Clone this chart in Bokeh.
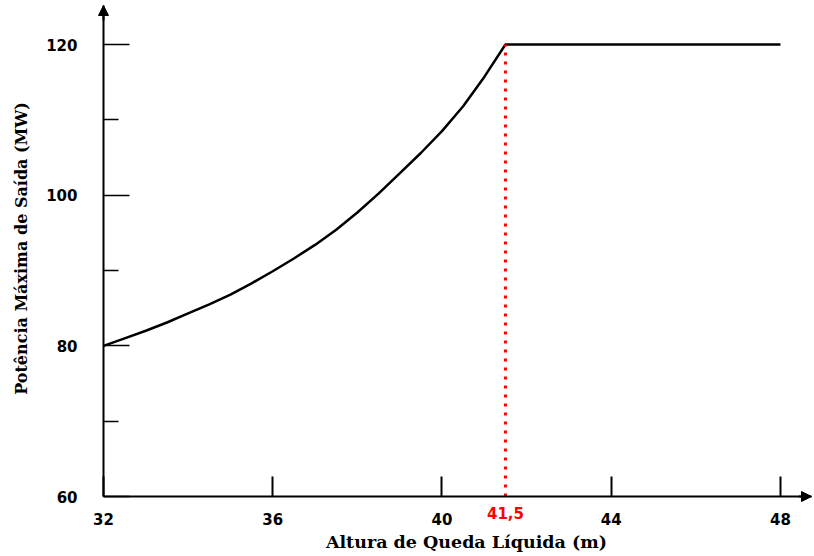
import math
from bokeh.plotting import figure
from bokeh.models import FixedTicker, Range1d, Label, Arrow, NormalHead
from bokeh.embed import file_html
from bokeh.resources import INLINE

# data
altura = [32, 32.5, 33, 33.5, 34, 34.5, 35, 35.5, 36, 36.5, 37, 37.5, 38, 38.5,
          39, 39.5, 40, 40.5, 41, 41.5, 48]
potencia = [80, 81.0, 82.0, 83.1, 84.3, 85.5, 86.8, 88.3, 89.9, 91.6, 93.4, 95.4,
            97.7, 100.2, 102.9, 105.6, 108.5, 111.8, 115.7, 120, 120]
limite_x = 41.5
limite_label = "41,5"
x_ticks = [32, 36, 40, 44, 48]
y_ticks = [60, 80, 100, 120]
y_minor = [70, 90, 110]
x_title = "Altura de Queda Líquida (m)"
y_title = "Potência Máxima de Saída (MW)"

# layout (pixels)
W, H = 812, 554
ox, oy = 103, 496          # pixel position of the axes origin
kx = 42.31                 # px per x unit
ky = 7.533                 # px per y unit
x0, y0 = x_ticks[0], y_ticks[0]

x_lo = x0 - ox / kx
x_hi = x0 + (W - ox) / kx
y_lo = y0 - (H - oy) / ky
y_hi = y0 + oy / ky
x_tip = x0 + (W - 1 - ox) / kx
y_tip = y0 + (oy - 5) / ky

p = figure(width=W, height=H, output_backend="svg", toolbar_location=None,
           x_range=Range1d(x_lo, x_hi), y_range=Range1d(y_lo, y_hi),
           min_border=0)
p.outline_line_color = None
p.xgrid.visible = False
p.ygrid.visible = False

tick_font = "DejaVu Sans"
label_font = "DejaVu Serif"

p.xaxis.ticker = FixedTicker(ticks=x_ticks)
p.yaxis.ticker = FixedTicker(ticks=y_ticks, minor_ticks=y_minor)
p.xaxis.fixed_location = y0
p.yaxis.fixed_location = x0
p.xaxis.bounds = (x0, x_tip)
p.yaxis.bounds = (y0, y_tip)
for ax in (p.xaxis[0], p.yaxis[0]):
    ax.axis_line_color = "black"
    ax.axis_line_width = 2
    ax.major_tick_line_color = "black"
    ax.minor_tick_line_color = "black"
    ax.major_tick_out = 0
    ax.minor_tick_out = 0
    ax.major_label_text_font = tick_font
    ax.major_label_text_font_style = "bold"
    ax.major_label_text_font_size = "15px"
    ax.major_label_text_color = "black"

p.xaxis.major_tick_in = 20
p.xaxis.major_tick_line_width = 2
p.xaxis.minor_tick_in = 0
p.xaxis.minor_tick_line_color = None
p.xaxis.major_label_standoff = 16

p.yaxis.major_tick_in = 26
p.yaxis.minor_tick_in = 15
p.yaxis.major_tick_line_width = 1.5
p.yaxis.minor_tick_line_width = 1.5
p.yaxis.major_label_standoff = 26

# axis titles
p.add_layout(Label(x=x0, y=y0, x_offset=363, y_offset=-45, text=x_title,
                   text_align="center", text_baseline="middle",
                   text_color="black", text_font=label_font,
                   text_font_style="bold", text_font_size="17.5px"))
p.add_layout(Label(x=x_lo, y=y0, x_offset=20.5, y_offset=248, text=y_title,
                   angle=math.pi / 2, text_align="center", text_baseline="middle",
                   text_color="black", text_font=label_font,
                   text_font_style="bold", text_font_size="16px"))

# curve
p.line(altura, potencia, line_color="black", line_width=2.5)

# red dotted limit line
p.segment(x0=[limite_x], y0=[y0], x1=[limite_x], y1=[max(potencia)],
          line_color="#ff0000", line_width=3, line_dash="3 6")
p.add_layout(Label(x=limite_x, y=y0, text=limite_label, y_offset=-16,
                   text_align="center", text_baseline="middle",
                   text_color="#ff0000", text_font=tick_font,
                   text_font_style="bold", text_font_size="15px"))

# axis arrows
head = dict(size=10, fill_color="black", line_color="black")
p.add_layout(Arrow(x_start=x0, y_start=y_tip - 2, x_end=x0, y_end=y_tip,
                   line_color="black", line_width=2, end=NormalHead(**head)))
p.add_layout(Arrow(x_start=x_tip - 0.3, y_start=y0, x_end=x_tip, y_end=y0,
                   line_color="black", line_width=2, end=NormalHead(**head)))

open("out.html", "w").write(file_html(p, INLINE))
